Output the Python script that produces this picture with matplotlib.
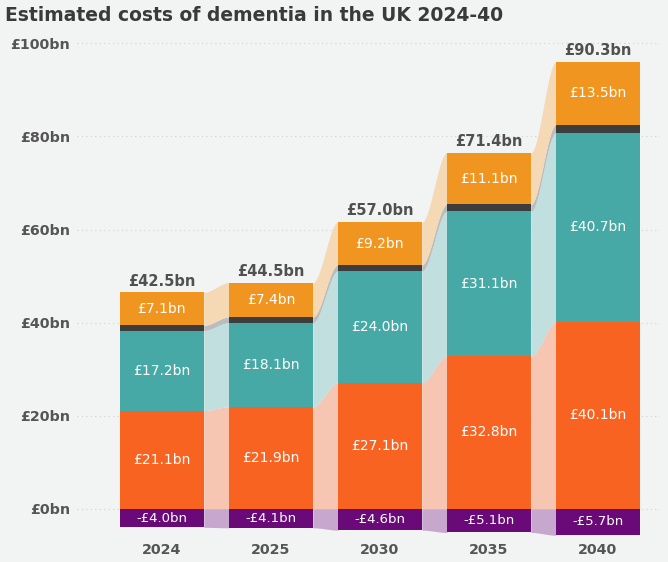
import numpy as np
import matplotlib.pyplot as plt

years = ["2024", "2025", "2030", "2035", "2040"]
totals = [42.5, 44.5, 57.0, 71.4, 90.3]

# stacked segments, bottom to top
orange_vals = [21.1, 21.9, 27.1, 32.8, 40.1]
teal_vals = [17.2, 18.1, 24.0, 31.1, 40.7]
dark_vals = [1.1, 1.2, 1.3, 1.5, 1.7]
amber_vals = [7.1, 7.4, 9.2, 11.1, 13.5]
purple_vals = [-4.0, -4.1, -4.6, -5.1, -5.7]

yticks = [0, 20, 40, 60, 80, 100]

bg = "#f2f3f3"
seg_colors = ["#f96322", "#47a9a5", "#3d3d3d", "#f0951f"]
band_colors = ["#f7c6b2", "#c0dfde", "#b9bdbd", "#f5d8b4"]
purple = "#6a0a78"
purple_band = "#c8a7cf"

fig = plt.figure(figsize=(6.68, 5.62), dpi=100, facecolor=bg)
ax = fig.add_axes([0.115, 0.041, 0.873, 0.890], facecolor=bg)

x = np.arange(len(years))
w = 0.77
segs = [orange_vals, teal_vals, dark_vals, amber_vals]
bottoms = []
b = np.zeros(len(years))
for vals in segs:
    bottoms.append(b.copy())
    b = b + np.array(vals)
tops_all = b

# connecting bands between bars
t = np.linspace(0, 1, 60)
s = 3 * t**2 - 2 * t**3
for i in range(len(years) - 1):
    xs = np.linspace(x[i] + w / 2, x[i + 1] - w / 2, 60)
    for k, vals in enumerate(segs):
        lo = bottoms[k][i] + (bottoms[k][i + 1] - bottoms[k][i]) * s
        hi0 = bottoms[k][i] + vals[i]
        hi1 = bottoms[k][i + 1] + vals[i + 1]
        hi = hi0 + (hi1 - hi0) * s
        ax.fill_between(xs, lo, hi, color=band_colors[k], lw=0, zorder=1)
    lo = purple_vals[i] + (purple_vals[i + 1] - purple_vals[i]) * s
    ax.fill_between(xs, lo, 0, color=purple_band, lw=0, zorder=1)

# bars
for k, vals in enumerate(segs):
    ax.bar(x, vals, w, bottom=bottoms[k], color=seg_colors[k], lw=0, zorder=2)
ax.bar(x, purple_vals, w, color=purple, lw=0, zorder=2)

# labels inside bars
for k, vals in enumerate(segs):
    if k == 2:
        continue
    for i, v in enumerate(vals):
        ax.text(x[i], bottoms[k][i] + v / 2, f"£{v:.1f}bn", ha="center",
                va="center", color="white", fontsize=10, zorder=3)
for i, v in enumerate(purple_vals):
    ax.text(x[i], v / 2, f"-£{abs(v):.1f}bn", ha="center", va="center",
            color="white", fontsize=9.5, zorder=3)
for i, tot in enumerate(totals):
    ax.text(x[i], tops_all[i] + 0.8, f"£{tot:.1f}bn", ha="center",
            va="bottom", color="#505050", fontsize=10.5, fontweight="bold",
            zorder=3)

ax.set_xlim(-0.78, 4.57)
ax.set_ylim(-6.5, 101)
ax.set_yticks(yticks)
ax.set_yticklabels([f"£{v}bn" for v in yticks])
ax.set_xticks(x)
ax.set_xticklabels(years)
for lab in ax.get_xticklabels() + ax.get_yticklabels():
    lab.set_fontweight("bold")
    lab.set_color("#555555")
    lab.set_fontsize(10.3)
ax.tick_params(length=0)
ax.tick_params(axis="y", pad=5)
ax.tick_params(axis="x", pad=3)
ax.grid(axis="y", color="#cfd2d2", linestyle=(0, (1, 3)), lw=0.8, zorder=0)
ax.set_axisbelow(True)
for sp in ax.spines.values():
    sp.set_visible(False)

fig.text(0.008, 0.972, "Estimated costs of dementia in the UK 2024-40",
         fontsize=13.5, fontweight="bold", color="#3a3a3a", va="center")

fig.savefig("out.png", dpi=100, facecolor=bg)
